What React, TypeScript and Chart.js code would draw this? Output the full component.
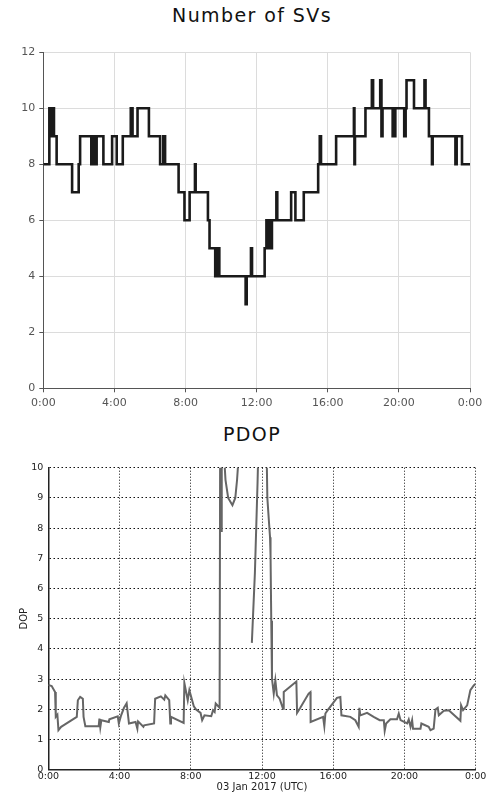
import React, { useEffect, useRef } from 'react';
import { Chart, registerables } from 'chart.js';

Chart.register(...registerables);

// ---------- data ----------
const timeTickLabels = ['0:00', '4:00', '8:00', '12:00', '16:00', '20:00', '0:00'];

// Number of SVs (step changes: hour of day -> count from that moment)
const svHours = [
  0, 0.34, 0.4, 0.44, 0.5, 0.54, 0.6, 0.75, 1.62, 1.99, 2.07, 2.7, 2.76, 2.82, 2.88, 2.94, 3.0,
  3.38, 3.87, 4.13, 4.47, 4.92, 5.02, 5.3, 5.94, 6.57, 6.75, 6.85, 7.61, 7.94, 8.23, 8.53, 8.57,
  9.26, 9.35, 9.67, 9.72, 9.78, 9.84, 9.9, 11.38, 11.44, 11.68, 11.74, 12.45, 12.55, 12.62, 12.68,
  12.78, 12.86, 13.11, 13.16, 13.94, 14.18, 14.65, 15.46, 15.55, 15.62, 16.47, 17.47, 17.5, 17.53,
  18.12, 18.48, 18.55, 18.95, 19.02, 19.08, 19.65, 19.72, 19.76, 19.8, 20.3, 20.38, 20.43, 20.85,
  21.44, 21.5, 21.69, 21.86, 21.9, 23.18, 23.25, 23.55, 24.0,
];
const svCounts = [
  8, 10, 9, 10, 9, 10, 9, 8, 7, 8, 9, 8, 9, 8, 9, 8, 9,
  8, 9, 8, 9, 10, 9, 10, 9, 8, 9, 8, 7, 6, 7, 8, 7,
  6, 5, 4, 5, 4, 5, 4, 3, 4, 5, 4, 5, 6, 5, 6,
  5, 6, 7, 6, 7, 6, 7, 8, 9, 8, 9, 10, 8, 9,
  10, 11, 10, 11, 9, 10, 9, 10, 9, 10, 9, 10, 11, 10,
  11, 10, 9, 8, 9, 8, 9, 8, 8,
];
const svYMax = 12;
const svYStep = 2;

// PDOP (null = no data)
const pdopHours = [
  0, 0.19, 0.38, 0.42, 0.51, 0.57, 0.72, 0.85, 1.6, 1.66, 1.79, 1.94, 1.98, 2.08, 2.83, 2.87,
  2.92, 2.98, 3.4, 3.43, 3.9, 3.96, 4.09, 4.25, 4.4, 4.53, 4.9, 5.0, 5.04, 5.34, 5.38, 5.94,
  6.0, 6.32, 6.51, 6.57, 6.79, 6.85, 6.89, 7.6, 7.64, 7.83, 7.92, 8.17, 8.3, 8.55, 8.64, 8.77,
  9.15, 9.25, 9.34, 9.4, 9.62, 9.66, 9.7, 9.74, 9.85, 9.95, 10.1, 10.34, 10.5, 10.6, 10.68, 10.75,
  11.0, 11.43, 11.6, 11.75, 11.85, 12.05, 12.22, 12.3, 12.38, 12.45, 12.48, 12.52, 12.56, 12.66,
  12.75, 12.84, 12.99, 13.18, 13.22, 13.93, 13.97, 14.15, 14.62, 14.72, 14.73, 15.43, 15.5, 15.56,
  15.69, 16.21, 16.4, 16.46, 16.96, 17.24, 17.43, 17.47, 17.52, 17.9, 18.27, 18.61, 18.84, 18.89,
  18.97, 19.21, 19.58, 19.68, 19.78, 20.15, 20.24, 20.34, 20.43, 20.48, 20.9, 20.95, 21.36, 21.46,
  21.64, 21.74, 21.87, 21.93, 22.21, 22.49, 23.14, 23.18, 23.29, 23.52, 23.7, 23.89, 24.0,
];
const pdopValues = [
  2.81, 2.77, 2.57, 1.75, 1.82, 1.31, 1.42, 1.47, 1.75, 2.3, 2.41, 2.35, 1.75, 1.44, 1.44, 1.69,
  1.4, 1.64, 1.58, 1.67, 1.77, 1.53, 1.8, 2.05, 2.2, 1.53, 1.58, 1.36, 1.6, 1.42, 1.47, 1.53,
  2.35, 2.43, 2.32, 2.46, 2.3, 1.53, 1.75, 1.55, 2.87, 2.3, 2.63, 2.1, 1.99, 1.88, 1.64, 1.8,
  1.77, 1.97, 1.91, 2.19, 2.05, 14, 7.9, 14, 10.6, 9.6, 9.0, 8.76, 9.0, 9.6, 10.3, 12,
  null, 4.2, 6.5, 9.5, 12, 16, 12, 9.0, 8.3, 7.7, 7.1, 4.93, 3.01, 2.52,
  2.96, 2.46, 2.35, 2.02, 2.57, 2.92, 1.88, 2.05, 2.52, 2.57, 1.58, 1.75, 1.44, 1.86,
  1.97, 2.38, 2.41, 1.8, 1.75, 1.64, 1.42, 2.05, 1.8, 1.88, 1.75, 1.64, 1.64, 1.29,
  1.53, 1.67, 1.67, 1.86, 1.64, 1.53, 1.66, 1.42, 1.64, 1.36, 1.36, 1.53, 1.42, 1.31,
  1.36, 1.99, 2.05, 1.8, 1.95, 1.97, 1.62, 2.13, 1.97, 2.13, 2.63, 2.79, 2.85,
];
const pdopYMax = 10;

const timeLabel = (v: any) => {
  const i = Math.round(Number(v) / 4);
  return timeTickLabels[i] ?? '';
};

function SvChart() {
  const ref = useRef<HTMLCanvasElement>(null);
  useEffect(() => {
    const chart = new Chart(ref.current!, {
      type: 'line',
      data: {
        datasets: [
          {
            data: svHours.map((h, i) => ({ x: h, y: svCounts[i] })),
            stepped: 'before',
            borderColor: '#1a1a1a',
            borderWidth: 2.6,
            pointRadius: 0,
            fill: false,
          },
        ],
      },
      options: {
        responsive: false,
        animation: false,
        devicePixelRatio: 1,
        layout: { padding: { top: 12.3, right: 18, left: 0, bottom: 0 } },
        plugins: { legend: { display: false }, title: { display: false }, tooltip: { enabled: false } },
        scales: {
          x: {
            type: 'linear',
            min: 0,
            max: 24,
            afterFit: (s: any) => { s.height = 26.7; },
            ticks: {
              stepSize: 4,
              maxRotation: 0,
              autoSkip: false,
              padding: 4,
              color: '#555',
              font: { family: 'DejaVu Sans', size: 11 },
              callback: timeLabel,
            },
            grid: { color: '#dcdcdc', lineWidth: 1, tickLength: 4, tickColor: '#555' },
            border: { color: '#555', width: 1 },
          },
          y: {
            min: 0,
            max: svYMax,
            afterFit: (s: any) => { s.width = 43.3; },
            ticks: {
              stepSize: svYStep,
              padding: 4,
              color: '#555',
              font: { family: 'DejaVu Sans', size: 11 },
            },
            grid: { color: '#dcdcdc', lineWidth: 1, tickLength: 4, tickColor: '#555' },
            border: { color: '#555', width: 1 },
          },
        },
      },
    });
    return () => chart.destroy();
  }, []);
  return (
    <canvas
      ref={ref}
      width={488}
      height={375}
      style={{ position: 'absolute', left: 0, top: 40, width: 488, height: 375 }}
    />
  );
}

function PdopChart() {
  const ref = useRef<HTMLCanvasElement>(null);
  useEffect(() => {
    const chart = new Chart(ref.current!, {
      type: 'line',
      data: {
        datasets: [
          {
            data: pdopHours.map((h, i) => ({ x: h, y: pdopValues[i] as any })),
            borderColor: '#666666',
            borderWidth: 2,
            pointRadius: 0,
            fill: false,
            spanGaps: false,
            tension: 0,
          },
        ],
      },
      options: {
        responsive: false,
        animation: false,
        devicePixelRatio: 1,
        layout: { padding: { top: 17.7, right: 12.3, left: 0, bottom: 0 } },
        plugins: { legend: { display: false }, title: { display: false }, tooltip: { enabled: false } },
        scales: {
          x: {
            type: 'linear',
            min: 0,
            max: 24,
            afterFit: (s: any) => { s.height = 37.3; },
            title: {
              display: true,
              text: '03 Jan 2017 (UTC)',
              color: '#222',
              font: { family: 'DejaVu Sans', size: 10 },
              padding: { top: 0, bottom: 14 },
            },
            ticks: {
              stepSize: 4,
              maxRotation: 0,
              autoSkip: false,
              padding: 1,
              color: '#222',
              font: { family: 'DejaVu Sans', size: 9.5 },
              callback: timeLabel,
            },
            grid: { color: '#111', lineWidth: 1, drawTicks: false },
            border: { color: '#222', width: 1.5, dash: [1, 2] },
          },
          y: {
            min: 0,
            max: pdopYMax,
            afterFit: (s: any) => { s.width = 48.3; },
            title: {
              display: true,
              text: 'DOP',
              color: '#222',
              font: { family: 'DejaVu Sans', size: 10 },
              padding: { top: 18, bottom: 0 },
            },
            ticks: {
              stepSize: 1,
              padding: 5,
              color: '#222',
              font: { family: 'DejaVu Sans', size: 9.5 },
            },
            grid: { color: '#111', lineWidth: 1, drawTicks: false },
            border: { color: '#222', width: 1.5, dash: [1.5, 2.5] },
          },
        },
      },
    });
    return () => chart.destroy();
  }, []);
  return (
    <canvas
      ref={ref}
      width={488}
      height={357}
      style={{ position: 'absolute', left: 0, top: 450, width: 488, height: 357 }}
    />
  );
}

const titleStyle: React.CSSProperties = {
  position: 'absolute',
  left: 0,
  width: 504,
  textAlign: 'center',
  fontFamily: '"DejaVu Sans", sans-serif',
  fontSize: 19,
  lineHeight: '19px',
  letterSpacing: '1.4px',
  color: '#111',
  whiteSpace: 'nowrap',
};

export default function App() {
  return (
    <div style={{ position: 'absolute', left: 0, top: 0, width: 488, height: 807, background: '#fff', overflow: 'hidden' }}>
      <div style={{ ...titleStyle, top: 5.6 }}>Number of SVs</div>
      <SvChart />
      <div style={{ ...titleStyle, top: 424.6 }}>PDOP</div>
      <PdopChart />
    </div>
  );
}
